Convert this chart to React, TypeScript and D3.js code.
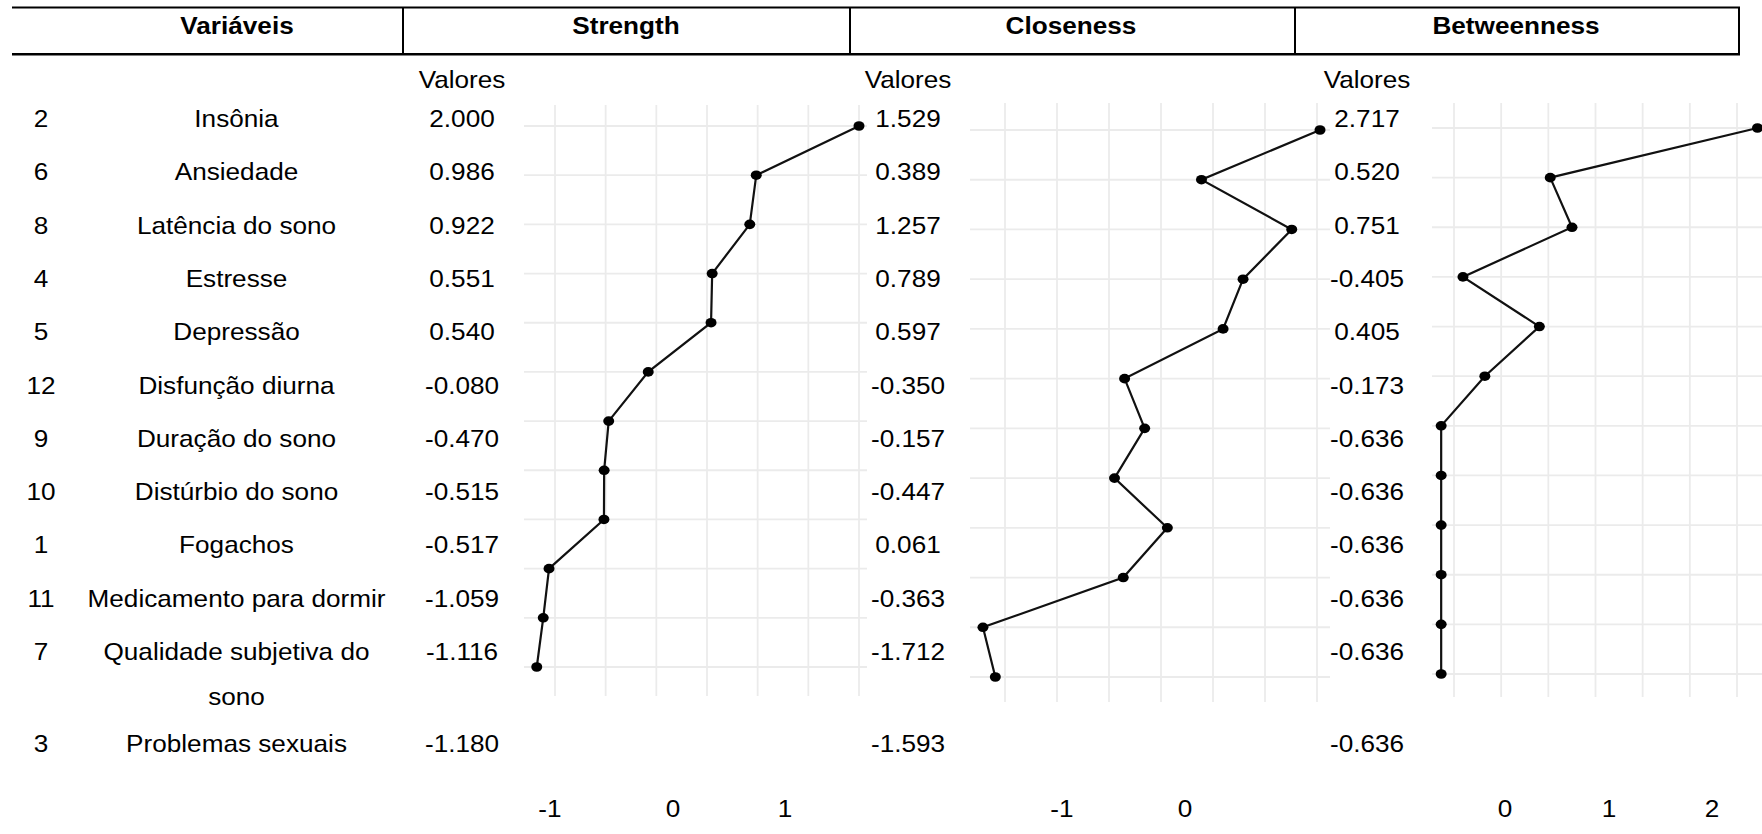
import React from "react";
import * as d3 from "d3";

// dados da tabela
const ids = ["2", "6", "8", "4", "5", "12", "9", "10", "1", "11", "7", "3"];
const variaveis = [
  "Insônia",
  "Ansiedade",
  "Latência do sono",
  "Estresse",
  "Depressão",
  "Disfunção diurna",
  "Duração do sono",
  "Distúrbio do sono",
  "Fogachos",
  "Medicamento para dormir",
  "Qualidade subjetiva do sono",
  "Problemas sexuais",
];
const strength = [2.0, 0.986, 0.922, 0.551, 0.54, -0.08, -0.47, -0.515, -0.517, -1.059, -1.116, -1.18];
const closeness = [1.529, 0.389, 1.257, 0.789, 0.597, -0.35, -0.157, -0.447, 0.061, -0.363, -1.712, -1.593];
const betweenness = [2.717, 0.52, 0.751, -0.405, 0.405, -0.173, -0.636, -0.636, -0.636, -0.636, -0.636, -0.636];
const strengthTicks = [-1, 0, 1];
const closenessTicks = [-1, 0];
const betweennessTicks = [0, 1, 2];
const headers = ["Variáveis", "Strength", "Closeness", "Betweenness"];
const valoresLabel = "Valores";

const W = 1762, H = 834;
const FONT = "'Liberation Sans', Arial, sans-serif";
const FS = 24;
const SX = 1.09; // texto esticado na horizontal

// layout de cada painel
const panels = [
  {
    values: strength, ticks: strengthTicks, valX: 462,
    gridDomain: [-1, 2], gridRange: [555, 859], hx: [524, 867], vy: [105, 696], py: [126, 667],
    tickRange: [550, 673, 785], tickDomain: [-1, 0, 1],
  },
  {
    values: closeness, ticks: closenessTicks, valX: 908,
    gridDomain: [-1.5, 1.5], gridRange: [1005, 1317], hx: [970, 1330], vy: [103, 702], py: [130, 677],
    tickRange: [1062, 1185], tickDomain: [-1, 0],
  },
  {
    values: betweenness, ticks: betweennessTicks, valX: 1367,
    gridDomain: [-0.5, 2.5], gridRange: [1454, 1737], hx: [1432, 1762], vy: [103, 697], py: [128, 674],
    tickRange: [1505, 1609, 1712], tickDomain: [0, 1, 2],
  },
];

const headerX = [237, 626, 1071, 1516];
const colLines = [403, 850, 1295, 1739];

function T({ x, y, children, bold = false, anchor = "middle" }: any) {
  return (
    <text
      transform={`translate(${x},${y}) scale(${SX},1)`}
      textAnchor={anchor}
      fontFamily={FONT}
      fontSize={FS}
      fontWeight={bold ? "bold" : "normal"}
      fill="#000"
    >
      {children}
    </text>
  );
}

// quebra de linha simples pela largura
function wrap(label: string, maxW: number): string[] {
  const ctx = document.createElement("canvas").getContext("2d");
  if (!ctx) return [label];
  ctx.font = `${FS}px ${FONT}`;
  const words = label.split(" ");
  const lines: string[] = [];
  let cur = "";
  words.forEach((w) => {
    const test = cur ? cur + " " + w : w;
    if (ctx.measureText(test).width * SX > maxW && cur) {
      lines.push(cur);
      cur = w;
    } else cur = test;
  });
  lines.push(cur);
  return lines;
}

export default function App() {
  const rowH = 53.3, extraLine = 38.5, firstRow = 127;
  const wrapped = variaveis.map((v) => wrap(v, 310));
  const rowY: number[] = [];
  let acc = firstRow;
  wrapped.forEach((lines) => {
    rowY.push(acc);
    acc += rowH + (lines.length - 1) * extraLine;
  });

  return (
    <svg width={W} height={H} style={{ position: "absolute", left: 0, top: 0, background: "#fff" }}>
      {/* cabeçalho */}
      <line x1={12} x2={1740} y1={7.5} y2={7.5} stroke="#000" strokeWidth={2.2} />
      <line x1={12} x2={1740} y1={54.3} y2={54.3} stroke="#000" strokeWidth={2.5} />
      {colLines.map((x) => (
        <line key={x} x1={x} x2={x} y1={7.5} y2={54.3} stroke="#000" strokeWidth={2} />
      ))}
      {headers.map((h, i) => (
        <T key={h} x={headerX[i]} y={33.5} bold>{h}</T>
      ))}

      {/* linhas da tabela */}
      {ids.map((id, i) => (
        <g key={id}>
          <T x={41} y={rowY[i]}>{id}</T>
          {wrapped[i].map((ln, j) => (
            <T key={j} x={236.5} y={rowY[i] + j * 45}>{ln}</T>
          ))}
        </g>
      ))}

      {panels.map((p, k) => {
        const x = d3.scaleLinear().domain(p.gridDomain).range(p.gridRange);
        const y = d3.scalePoint<string>().domain(ids).range(p.py);
        const tickX = d3.scaleLinear().domain(p.tickDomain).range(p.tickRange);
        const gridX = d3.range(p.gridDomain[0], p.gridDomain[1] + 0.001, 0.5);
        const line = d3
          .line<number>()
          .x((d) => x(d))
          .y((_, i) => y(ids[i]) as number);
        return (
          <g key={k}>
            <T x={p.valX} y={88.3}>{valoresLabel}</T>
            {p.values.map((v, i) => (
              <T key={i} x={p.valX} y={rowY[i]}>{v.toFixed(3)}</T>
            ))}
            {ids.map((id) => (
              <line key={id} x1={p.hx[0]} x2={p.hx[1]} y1={y(id)} y2={y(id)} stroke="#ebebeb" strokeWidth={1.8} />
            ))}
            {gridX.map((g) => (
              <line key={g} x1={x(g)} x2={x(g)} y1={p.vy[0]} y2={p.vy[1]} stroke="#ebebeb" strokeWidth={1.8} />
            ))}
            <path d={line(p.values) || ""} fill="none" stroke="#111" strokeWidth={2.2} />
            {p.values.map((v, i) => (
              <ellipse key={i} cx={x(v)} cy={y(ids[i])} rx={5.5} ry={4.8} fill="#000" />
            ))}
            {p.ticks.map((t) => (
              <T key={t} x={tickX(t)} y={817}>{t}</T>
            ))}
          </g>
        );
      })}
    </svg>
  );
}
